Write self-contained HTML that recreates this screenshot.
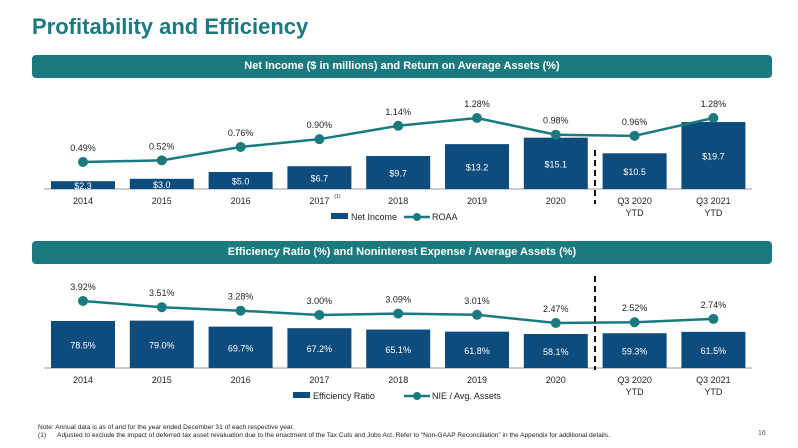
<!DOCTYPE html>
<html><head><meta charset="utf-8"><style>
body{margin:0;width:798px;height:448px;background:#fff;font-family:"Liberation Sans",sans-serif;overflow:hidden;position:relative}
.t{position:absolute}
</style></head><body>
<div class="t" style="left:32px;top:14px;font-size:22px;font-weight:bold;color:#1b7a80">Profitability and Efficiency</div>
<div class="t" style="left:32px;top:55px;width:740px;height:23px;background:#1b7a80;border-radius:4px;color:#fff;font-weight:bold;font-size:11px;line-height:23px;text-align:center">Net Income ($ in millions) and Return on Average Assets (%)</div>
<div class="t" style="left:32px;top:241px;width:740px;height:23px;background:#1b7a80;border-radius:4px;color:#fff;font-weight:bold;font-size:11px;line-height:23px;text-align:center">Efficiency Ratio (%) and Noninterest Expense / Average Assets (%)</div>
<svg id="svg" width="798" height="448" style="position:absolute;left:0;top:0"></svg>
<div class="t" style="left:38px;top:424px;font-size:6.6px;line-height:8px;color:#222;white-space:nowrap">Note: Annual data is as of and for the year ended December 31 of each respective year.<br>(1)&nbsp;&nbsp;&nbsp;&nbsp;&nbsp;&nbsp;Adjusted to exclude the impact of deferred tax asset revaluation due to the enactment of the Tax Cuts and Jobs Act. Refer to “Non-GAAP Reconciliation” in the Appendix for additional details.</div>
<div class="t" style="left:758px;top:430px;font-size:7px;color:#555">16</div>
<script>
const categories=["2014","2015","2016","2017","2018","2019","2020","Q3 2020|YTD","Q3 2021|YTD"];
const netIncome=[2.3,3.0,5.0,6.7,9.7,13.2,15.1,10.5,19.7];
const netIncomeLabels=["$2.3","$3.0","$5.0","$6.7","$9.7","$13.2","$15.1","$10.5","$19.7"];
const roaa=[0.49,0.52,0.76,0.90,1.14,1.28,0.98,0.96,1.28];
const effRatio=[78.5,79.0,69.7,67.2,65.1,61.8,58.1,59.3,61.5];
const nie=[3.92,3.51,3.28,3.00,3.09,3.01,2.47,2.52,2.74];
const svg=document.getElementById('svg');const NS='http://www.w3.org/2000/svg';
function mk(t,a,txt){const e=document.createElementNS(NS,t);for(const k in a)e.setAttribute(k,a[k]);if(txt!=null)e.textContent=txt;svg.appendChild(e);return e;}
const xc=i=>83+i*78.8;const BW=64;
function chart(o){
 mk('line',{x1:44,x2:752,y1:o.base,y2:o.base,stroke:'#999','stroke-width':1});
 categories.forEach((c,i)=>{
  const h=o.barH(o.bars[i]);
  let r=mk('rect',{x:xc(i)-BW/2,y:o.base-h,width:BW,height:h,fill:'#0e4c7e'});
  
  
  let t=mk('text',{x:xc(i),y:o.base-h/2+4,'text-anchor':'middle','font-size':9,fill:'#fff'},o.barLbl[i]);
  
  
  const p=c.split('|');
  p.forEach((s,j)=>{let a=mk('text',{x:xc(i),y:o.base+15+j*12,'text-anchor':'middle','font-size':9,fill:'#222'},s);
   
   });
 });
 if(o.key==='ni'){let s=mk('text',{x:xc(3)+15,y:o.base+9,'font-size':5,fill:'#222'},'(1)');
  
  }
 const pts=o.line.map((v,i)=>[xc(i),o.lineY(v)]);
 let pl=mk('polyline',{points:pts.map(p=>p.join(',')).join(' '),fill:'none',stroke:'#1b7a80','stroke-width':2.5});
 
 
 pts.forEach((p,i)=>{let c=mk('circle',{cx:p[0],cy:p[1],r:5,fill:'#1b7a80'});
  
  
  let t=mk('text',{x:p[0],y:p[1]-11,'text-anchor':'middle','font-size':9,fill:'#222'},o.line[i].toFixed(2)+'%');
  
  });
 let d=mk('line',{x1:595,x2:595,y1:o.dash[0],y2:o.dash[1],stroke:'#111','stroke-width':2,'stroke-dasharray':'6,4'});
 
 
 const ly=o.base+28;
 let sw=mk('rect',{x:o.lg[0],y:ly-4,width:17,height:6,fill:'#0e4c7e'});
 
 
 let lt=mk('text',{x:o.lg[0]+20,y:ly+3,'font-size':9,fill:'#222'},o.lgT[0]);
 
 
 mk('line',{x1:o.lg[1],x2:o.lg[1]+26,y1:ly,y2:ly,stroke:'#1b7a80','stroke-width':2.5});
 let lc=mk('circle',{cx:o.lg[1]+13,cy:ly,r:4,fill:'#1b7a80'});
 
 
 let lt2=mk('text',{x:o.lg[1]+28,y:ly+3,'font-size':9,fill:'#222'},o.lgT[1]);
 
 
}
chart({key:'ni',base:189,bars:netIncome,barLbl:netIncomeLabels,barH:v=>v*3.4,line:roaa,lineY:v=>189.3-v*55.7,dash:[150,204],lg:[331,404],lgT:['Net Income','ROAA']});
chart({key:'eff',base:368,bars:effRatio,barLbl:effRatio.map(v=>v.toFixed(1)+'%'),barH:v=>(v-5)*0.64,line:nie,lineY:v=>368-(v+0.49)*15.2,dash:[276,370],lg:[293,404],lgT:['Efficiency Ratio','NIE / Avg. Assets']});
</script>
</body></html>
